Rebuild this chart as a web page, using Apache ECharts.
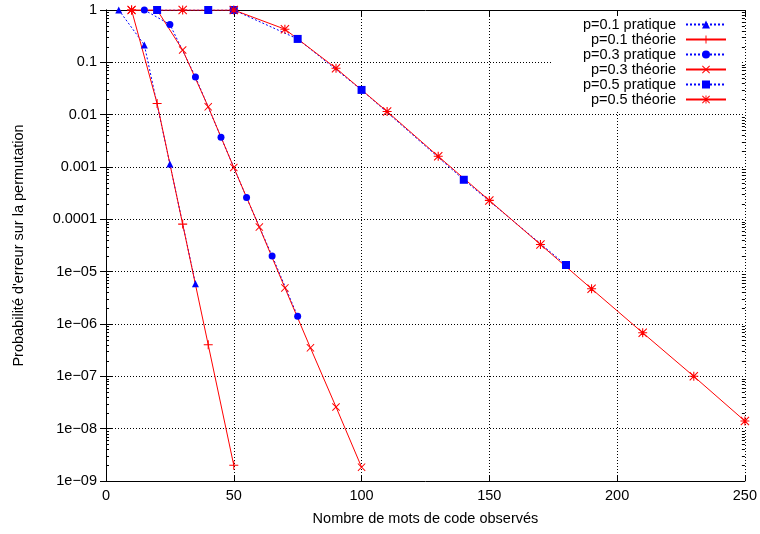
<!DOCTYPE html>
<html>
<head>
<meta charset="utf-8">
<script src="https://cdn.jsdelivr.net/npm/echarts@6/dist/echarts.min.js"></script>
<style>html,body{margin:0;padding:0;background:#fff;}#c{width:760px;height:534px;}</style>
</head>
<body>
<div id="c"></div>
<script>
// ---- data ----
const seriesNames = ['p=0.1 pratique', 'p=0.1 théorie', 'p=0.3 pratique', 'p=0.3 théorie', 'p=0.5 pratique', 'p=0.5 théorie'];

const p01PratX = [5, 15, 25, 35];
const p01PratY = [1, 0.215, 1.14e-3, 5.9e-6];

const p01TheoX = [10, 20, 30, 40, 50];
const p01TheoY = [1, 0.0163, 8.1e-5, 4.0e-7, 2.0e-9];

const p03PratX = [15, 25, 35, 45, 55, 65, 75];
const p03PratY = [1, 0.53, 0.0526, 3.7e-3, 2.6e-4, 2.0e-5, 1.4e-6];

const p03TheoX = [10, 20, 30, 40, 50, 60, 70, 80, 90, 100];
const p03TheoY = [1, 1, 0.172, 0.0141, 9.8e-4, 7.1e-5, 4.9e-6, 3.5e-7, 2.6e-8, 1.84e-9];

const p05PratX = [20, 40, 50, 75, 100, 140, 180];
const p05PratY = [1, 1, 1, 0.28, 0.0297, 5.7e-4, 1.34e-5];

const p05TheoX = [10, 30, 50, 70, 90, 110, 130, 150, 170, 190, 210, 230, 250];
const p05TheoY = [1, 1, 1, 0.43, 0.077, 0.0115, 1.6e-3, 2.3e-4, 3.3e-5, 4.7e-6, 6.8e-7, 1.0e-7, 1.4e-8];

const xTicks = [0, 50, 100, 150, 200, 250];
const yTickLabels = ['1', '0.1', '0.01', '0.001', '0.0001', '1e\u221205', '1e\u221206', '1e\u221207', '1e\u221208', '1e\u221209'];

const xTitle = 'Nombre de mots de code observés';
const yTitle = "Probabilité d'erreur sur la permutation";

// ---- helpers ----
function pairs(xs, ys) { return xs.map((x, i) => [x, ys[i]]); }

// minor log ticks (2..9 per decade)
const minorTickValues = [];
for (let e = -9; e < 0; e++) {
  for (let m = 2; m <= 9; m++) minorTickValues.push([0, m * Math.pow(10, e)]);
}

const FONT = 'Liberation Sans, Arial, Helvetica, sans-serif';
const FS = 14.5;
const BLUE = '#0000ff';
const RED = '#ff0000';

const plusPath = 'path://M4.4,0H5.6V4.4H10V5.6H5.6V10H4.4V5.6H0V4.4H4.4Z';
const crossPath = 'path://M0,0.85L0.85,0L5,4.15L9.15,0L10,0.85L5.85,5L10,9.15L9.15,10L5,5.85L0.85,10L0,9.15L4.15,5Z';
const starPath = 'path://M4.4,0H5.6V4.4H10V5.6H5.6V10H4.4V5.6H0V4.4H4.4Z M0,0.85L0.85,0L5,4.15L9.15,0L10,0.85L5.85,5L10,9.15L9.15,10L5,5.85L0.85,10L0,9.15L4.15,5Z';

function pratSeries(name, data, symbol, size) {
  return {
    name, type: 'line', data, symbol, symbolSize: size, showSymbol: true,
    lineStyle: { color: BLUE, width: 1, type: [2, 2] },
    itemStyle: { color: BLUE },
    emphasis: { disabled: true }
  };
}
function theoSeries(name, data, symbol, size) {
  return {
    name, type: 'line', data, symbol, symbolSize: size, showSymbol: true,
    lineStyle: { color: RED, width: 1, type: 'solid' },
    itemStyle: { color: RED },
    emphasis: { disabled: true }
  };
}

const axisLineStyle = { show: true, lineStyle: { color: '#000', width: 1 } };
const gridLine = { show: true, lineStyle: { color: '#000', width: 1, type: [1, 2] } };

const option = {
  animation: false,
  backgroundColor: '#fff',
  textStyle: { fontFamily: FONT },
  grid: { left: 106, right: 12, top: 10, bottom: 53, containLabel: false },
  legend: {
    data: seriesNames,
    orient: 'vertical',
    align: 'right',
    right: 20,
    top: 16,
    itemWidth: 40,
    itemHeight: 10,
    itemGap: 0,
    padding: [1, 13, 4, 30],
    backgroundColor: '#fff',
    selectedMode: false,
    textStyle: { fontFamily: FONT, fontSize: FS, color: '#000', lineHeight: 15, padding: [0, 5, 0, 0] }
  },
  xAxis: [{
    type: 'value', min: xTicks[0], max: xTicks[xTicks.length - 1], interval: 50, position: 'bottom',
    axisLine: axisLineStyle,
    axisTick: { show: true, inside: true, length: 6, lineStyle: { color: '#000' } },
    axisLabel: { color: '#000', fontSize: FS, fontFamily: FONT, margin: 7 },
    splitLine: gridLine,
    name: xTitle, nameLocation: 'middle', nameGap: 30,
    nameTextStyle: { color: '#000', fontSize: FS, fontFamily: FONT }
  }, {
    type: 'value', min: xTicks[0], max: xTicks[xTicks.length - 1], interval: 50, position: 'top',
    axisLine: axisLineStyle,
    axisTick: { show: true, inside: true, length: 6, lineStyle: { color: '#000' } },
    axisLabel: { show: false },
    splitLine: { show: false }
  }],
  yAxis: [{
    type: 'log', logBase: 10, min: 1e-9, max: 1, interval: 1, position: 'left',
    axisLine: axisLineStyle,
    axisTick: { show: true, inside: true, length: 6, lineStyle: { color: '#000' } },
    axisLabel: {
      color: '#000', fontSize: FS, fontFamily: FONT, margin: 9,
      formatter: function (v) { const e = Math.round(Math.log10(v)); return yTickLabels[-e]; }
    },
    splitLine: gridLine,
    name: yTitle, nameLocation: 'middle', nameGap: 80, nameRotate: 90,
    nameTextStyle: { color: '#000', fontSize: FS, fontFamily: FONT }
  }, {
    type: 'log', logBase: 10, min: 1e-9, max: 1, interval: 1, position: 'right',
    axisLine: axisLineStyle,
    axisTick: { show: true, inside: true, length: 6, lineStyle: { color: '#000' } },
    axisLabel: { show: false },
    splitLine: { show: false }
  }],
  series: [
    {
      type: 'custom', name: 'minor', silent: true, xAxisIndex: 0, yAxisIndex: 0,
      data: minorTickValues, z: 1,
      renderItem: function (params, api) {
        const y = Math.round(api.coord([0, api.value(1)])[1]) + 0.5;
        const cs = params.coordSys;
        return {
          type: 'group', children: [
            { type: 'line', shape: { x1: cs.x, y1: y, x2: cs.x + 3, y2: y }, style: { stroke: '#000', lineWidth: 1 } },
            { type: 'line', shape: { x1: cs.x + cs.width - 3, y1: y, x2: cs.x + cs.width, y2: y }, style: { stroke: '#000', lineWidth: 1 } }
          ]
        };
      }
    },
    pratSeries(seriesNames[0], pairs(p01PratX, p01PratY), 'triangle', 7),
    theoSeries(seriesNames[1], pairs(p01TheoX, p01TheoY), plusPath, 9),
    pratSeries(seriesNames[2], pairs(p03PratX, p03PratY), 'circle', 7),
    theoSeries(seriesNames[3], pairs(p03TheoX, p03TheoY), crossPath, 8),
    pratSeries(seriesNames[4], pairs(p05PratX, p05PratY), 'rect', 8),
    theoSeries(seriesNames[5], pairs(p05TheoX, p05TheoY), starPath, 9)
  ]
};

const chart = echarts.init(document.getElementById('c'), null, { renderer: 'canvas' });
chart.setOption(option);
</script>
</body>
</html>
